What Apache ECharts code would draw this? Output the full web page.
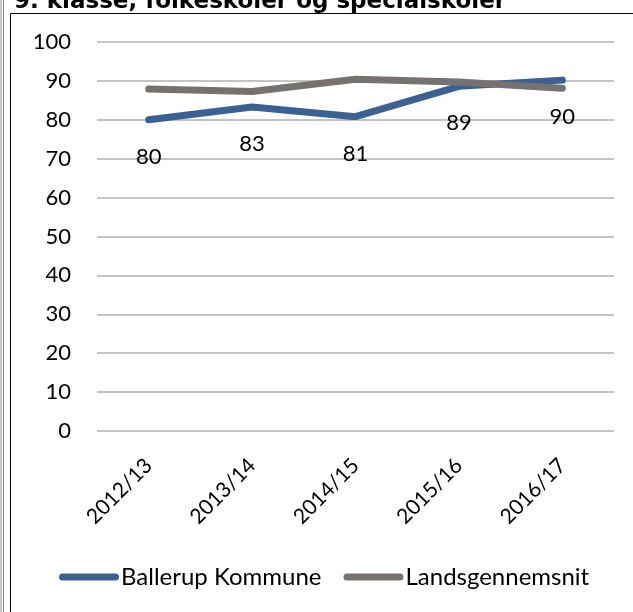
<!DOCTYPE html>
<html>
<head>
<meta charset="utf-8">
<script src="https://cdn.jsdelivr.net/npm/echarts@6/dist/echarts.min.js"></script>
<style>
  html, body { margin: 0; padding: 0; background: #fff; }
  #myChart { width: 633px; height: 612px; }
</style>
</head>
<body>
<div id="myChart"></div>
<script>
// data
var years = ['2012/13', '2013/14', '2014/15', '2015/16', '2016/17'];
var ballerup = [80.0, 83.3, 80.8, 88.6, 90.2];
var landsgennemsnit = [87.9, 87.3, 90.4, 89.7, 88.1];
var yTicks = { min: 0, max: 100, interval: 10 };

var font = 'Lato';
var myChart = echarts.init(document.getElementById('myChart'));

var option = {
    animation: false,
    textStyle: { fontFamily: font },
    title: {
        text: '9. klasse, folkeskoler og specialskoler',
        left: 9,
        top: -14,
        textStyle: {
            fontFamily: 'DejaVu Sans',
            fontWeight: 'bold',
            fontSize: 23,
            color: '#000'
        }
    },
    graphic: [
        // frame lines round the chart
        { type: 'line', shape: { x1: 1, y1: 0, x2: 1, y2: 612 }, style: { stroke: '#8c8c8c', lineWidth: 1 } },
        { type: 'line', shape: { x1: 3.5, y1: 0, x2: 3.5, y2: 612 }, style: { stroke: '#8c8c8c', lineWidth: 1 } },
        { type: 'line', shape: { x1: 10.5, y1: 13.5, x2: 633, y2: 13.5 }, style: { stroke: '#000', lineWidth: 1 } },
        { type: 'line', shape: { x1: 10.5, y1: 13.5, x2: 10.5, y2: 612 }, style: { stroke: '#000', lineWidth: 1 } }
    ],
    color: ['#3a6192', '#767272'],
    legend: {
        left: 54,
        top: 560,
        itemGap: 22,
        itemWidth: 60,
        itemHeight: 7,
        icon: 'path://M3.5,0 H56.5 A3.5,3.5 0 0 1 56.5,7 H3.5 A3.5,3.5 0 0 1 3.5,0 Z',
        textStyle: { fontFamily: font, fontSize: 24, color: '#000', padding: [0, 0, 0, -3] },
        data: ['Ballerup Kommune', 'Landsgennemsnit']
    },
    grid: {
        left: 97,
        right: 19,
        top: 42,
        bottom: 181,
        containLabel: false
    },
    xAxis: {
        type: 'category',
        data: years,
        boundaryGap: true,
        axisLine: { show: false },
        axisTick: { show: false },
        axisLabel: {
            rotate: 45,
            margin: 31,
            fontFamily: font,
            fontSize: 21,
            color: '#000',
            interval: 0
        }
    },
    yAxis: {
        type: 'value',
        min: yTicks.min,
        max: yTicks.max,
        interval: yTicks.interval,
        axisLine: { show: false },
        axisTick: { show: false },
        axisLabel: { margin: 26, fontFamily: font, fontSize: 22, color: '#000' },
        splitLine: { lineStyle: { color: '#b0b0b0', width: 1.5 } }
    },
    series: [
        {
            name: 'Ballerup Kommune',
            type: 'line',
            data: ballerup,
            symbol: 'circle',
            symbolSize: 2,
            showSymbol: true,
            lineStyle: { width: 7, cap: 'round', join: 'round' },
            label: {
                show: true,
                position: 'bottom',
                distance: 25,
                fontFamily: font,
                fontSize: 22,
                color: '#000',
                formatter: function (p) { return Math.round(p.value); }
            }
        },
        {
            name: 'Landsgennemsnit',
            type: 'line',
            data: landsgennemsnit,
            symbol: 'none',
            lineStyle: { width: 7, cap: 'round', join: 'round' }
        }
    ]
};

myChart.setOption(option);
window.addEventListener('resize', myChart.resize);
</script>
</body>
</html>
